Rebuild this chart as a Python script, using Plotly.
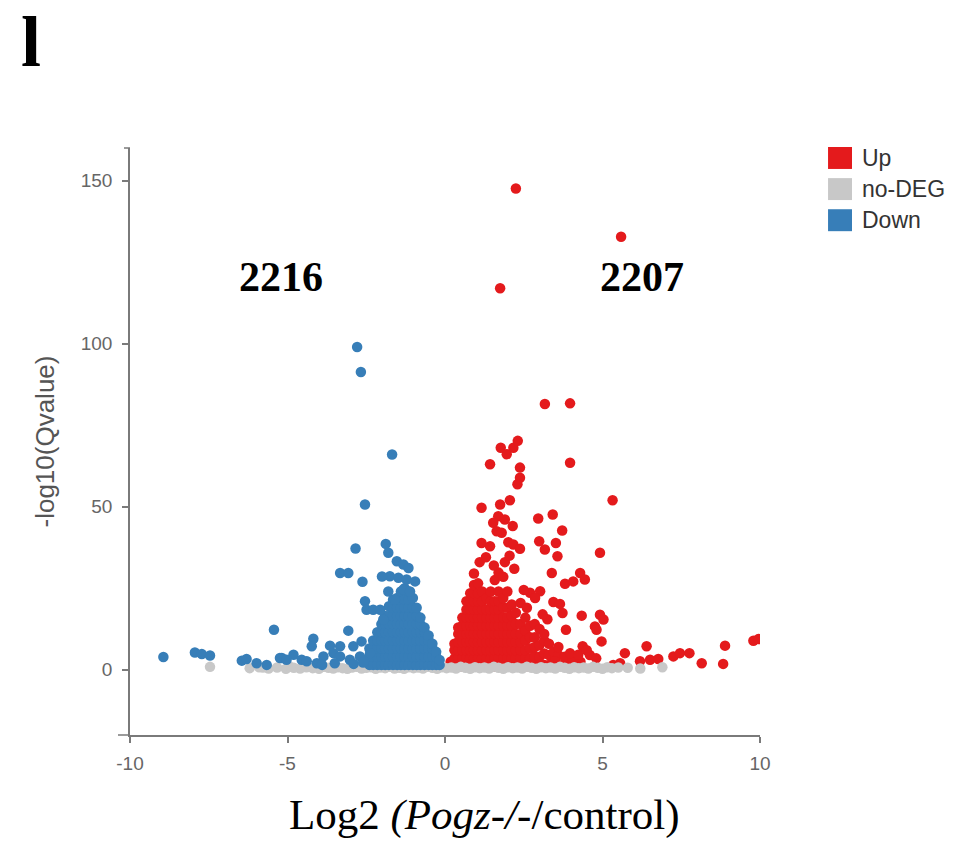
import plotly.graph_objects as go

# ---------------- data ----------------
# Up-regulated genes: isolated points
up_sparse_x = [2.25, 5.59, 1.75, 3.17, 3.97, 1.77, 1.96, 2.17, 2.31, 1.43, 3.97, 2.38, 2.38, 2.30,
               5.32, 1.16, 1.75, 2.06, 1.69, 1.90, 2.15, 1.53, 2.96, 3.42, 3.72, 1.64, 1.80,
               1.16, 1.43, 2.01, 2.17, 2.38, 2.99, 3.17, 3.52, 3.57, 4.92, 3.39, 4.29, 4.44,
               3.81, 4.07, 2.70, 3.02, 2.86, 3.44, 3.65, 3.73, 4.34, 4.92, 5.03, 4.76, 4.81,
               3.84, 4.97, 6.40, 8.89, 9.79, 9.95, 7.25, 7.46, 7.76, 8.15, 8.83, 5.71, 6.19,
               6.51, 6.77, 5.56, 5.34, 4.37, 3.97, 4.23, 3.49, 4.60, 4.80, 4.50, 1.10, 1.30,
               1.55, 1.90, 2.20, 2.05, 2.60, 3.25, 3.10, 2.50]
up_sparse_y = [147.6, 132.8, 117.0, 81.5, 81.7, 68.1, 66.1, 68.1, 70.2, 63.0, 63.5, 62.0, 58.9, 56.9,
               52.0, 49.7, 50.7, 52.0, 47.1, 46.1, 44.1, 45.1, 46.4, 47.6, 42.7, 42.5, 42.0,
               38.9, 37.9, 39.1, 38.4, 37.1, 39.4, 36.9, 38.9, 34.8, 35.9, 29.7, 29.7, 27.7,
               26.4, 27.1, 23.6, 24.1, 22.0, 20.8, 20.2, 17.4, 16.6, 16.9, 15.4, 13.3, 12.3,
               12.3, 8.7, 7.2, 7.4, 8.9, 9.4, 4.1, 5.1, 5.1, 2.0, 1.8, 5.1, 2.6,
               3.1, 3.3, 2.0, 1.5, 7.2, 5.1, 4.6, 2.6, 4.5, 3.5, 6.0, 33.0, 34.5,
               32.0, 33.0, 31.0, 35.0, 19.0, 15.5, 17.0, 24.5]

# Up-regulated genes: dense core, listed column by column (x, then its y values)
up_core = [
    (0.18, [1.0, 2.5]),
    (0.30, [1.0, 3.5, 6.0, 8.0]),
    (0.42, [1.0, 3.5, 6.0, 8.5, 11.0, 13.0]),
    (0.55, [1.0, 3.5, 6.0, 8.5, 11.0, 13.5, 16.0]),
    (0.68, [1.0, 3.5, 6.0, 8.5, 11.0, 13.5, 16.0, 18.5, 21.0]),
    (0.80, [1.0, 3.5, 6.0, 8.5, 11.0, 13.5, 16.0, 18.5, 21.0, 23.5]),
    (0.92, [1.0, 3.5, 6.0, 8.5, 11.0, 13.5, 16.0, 18.5, 21.0, 23.5, 26.0, 29.5]),
    (1.05, [1.0, 3.5, 6.0, 8.5, 11.0, 13.5, 16.0, 18.5, 21.0, 23.5, 26.5]),
    (1.18, [1.0, 3.5, 6.0, 8.5, 11.0, 13.5, 16.0, 18.5, 21.0, 24.0]),
    (1.32, [1.0, 3.5, 6.0, 8.5, 11.0, 13.5, 16.0, 18.5, 22.0]),
    (1.45, [1.0, 3.5, 6.0, 8.5, 11.0, 13.5, 16.0, 18.5, 21.0, 24.0]),
    (1.58, [1.0, 3.5, 6.0, 8.5, 11.0, 13.5, 16.0, 18.5, 21.0, 27.5]),
    (1.70, [1.0, 3.5, 6.0, 8.5, 11.0, 13.5, 16.0, 18.5, 21.0, 24.0, 29.8]),
    (1.85, [1.0, 3.5, 6.0, 8.5, 11.0, 13.5, 16.0, 19.0, 22.0, 28.5]),
    (1.98, [1.0, 3.5, 6.0, 8.5, 11.0, 13.5, 16.0, 19.0, 24.0]),
    (2.12, [1.0, 3.5, 6.0, 8.5, 11.0, 13.5, 16.5, 20.0]),
    (2.25, [1.0, 3.5, 6.0, 8.5, 11.0, 14.0, 17.5]),
    (2.40, [1.0, 3.5, 6.0, 8.5, 11.0, 14.0, 20.5]),
    (2.55, [1.0, 3.5, 6.0, 9.0, 12.0, 16.0]),
    (2.70, [1.0, 3.5, 6.5, 10.0, 13.5]),
    (2.85, [1.2, 4.0, 7.0, 10.0, 14.0]),
    (3.00, [1.2, 4.0, 7.5, 12.5]),
    (3.15, [1.5, 5.0, 9.0, 11.0]),
    (3.30, [1.5, 4.5, 8.0]),
    (3.45, [1.5, 5.5]),
    (3.60, [1.5, 4.5, 7.0]),
    (3.80, [2.0, 4.0]),
    (4.05, [2.0, 3.5]),
    (4.30, [2.5]),
]

# Not differentially expressed genes
nodeg_x = [-7.46, -6.20, -5.90, -5.78, -5.60, -5.33, -5.05, -4.92, -4.80, -4.60, -4.40, -4.20, -4.00,
           -3.85, -3.70, -3.55, -3.40, -3.25, -3.10, -2.95, -2.80, -2.65, -2.50, -2.35, -2.20,
           -2.05, -1.90, -1.75, -1.60, -1.45, -1.30, -1.15, -1.00, -0.85, -0.70, -0.55, -0.40,
           -0.25, -0.10, 0.05, 0.20, 0.35, 0.50, 0.65, 0.80, 0.95, 1.10, 1.25, 1.40, 1.55,
           1.70, 1.85, 2.00, 2.15, 2.30, 2.45, 2.60, 2.75, 2.90, 3.05, 3.20, 3.35, 3.50, 3.65,
           3.80, 3.95, 4.10, 4.25, 4.40, 4.55, 4.70, 4.85, 5.00, 5.15, 5.30, 5.50, 5.80, 6.20, 6.90]
nodeg_y = [0.9, 0.5, 0.8, 0.7, 0.4, 0.7, 0.3, 0.9, 0.6, 0.4, 0.8, 0.5, 0.3,
           0.9, 0.6, 0.4, 0.8, 0.5, 0.3, 0.7, 0.9, 0.4, 0.6, 0.8, 0.3,
           0.7, 0.5, 0.9, 0.4, 0.6, 0.3, 0.8, 0.5, 0.7, 0.4, 0.9, 0.6,
           0.3, 0.8, 0.5, 0.7, 0.4, 0.9, 0.6, 0.3, 0.8, 0.5, 0.7, 0.4, 0.9,
           0.6, 0.3, 0.8, 0.5, 0.7, 0.4, 0.9, 0.6, 0.3, 0.8, 0.5, 0.7, 0.4, 0.9,
           0.6, 0.3, 0.8, 0.5, 0.7, 0.4, 0.9, 0.6, 0.3, 0.8, 0.5, 0.7, 0.6, 0.4, 0.8]

# Down-regulated genes: isolated points
down_sparse_x = [-2.79, -2.67, -1.68, -2.54, -2.84, -1.88, -1.80, -1.53, -1.32, -1.16, -1.75, -1.48,
                 -1.22, -0.95, -3.33, -3.07, -2.62, -2.00, -1.80, -2.54, -2.49, -2.28, -2.06, -1.96,
                 -1.59, -1.32, -1.11, -5.43, -3.07, -4.18, -8.94, -7.94, -7.72, -7.46, -6.45, -6.30,
                 -5.98, -5.66, -5.18, -4.81, -4.23, -3.65, -3.33, -2.91, -2.65, -3.86, -3.54, -3.33,
                 -3.02, -2.70, -2.38, -4.55, -4.39, -4.07, -5.24, -5.03, -3.90, -3.50, -2.90, -2.60]
down_sparse_y = [99.0, 91.3, 66.0, 50.7, 37.2, 38.6, 35.9, 33.3, 32.3, 31.2, 28.7, 28.2,
                 27.7, 27.1, 29.7, 29.7, 27.0, 28.6, 24.0, 21.0, 18.4, 18.4, 18.4, 15.4,
                 21.5, 24.6, 24.0, 12.3, 12.0, 9.5, 3.9, 5.3, 4.8, 4.4, 2.8, 3.3,
                 2.0, 1.5, 3.6, 4.6, 7.2, 7.4, 7.2, 7.2, 8.7, 4.1, 5.1, 4.1,
                 3.1, 4.1, 5.1, 3.1, 2.6, 2.0, 3.6, 3.1, 1.5, 2.0, 1.8, 2.2]

# Down-regulated genes: dense core, column by column
down_core = [
    (-2.40, [1.5, 4.0, 6.5]),
    (-2.28, [1.5, 4.0, 6.5, 9.0]),
    (-2.15, [1.5, 4.0, 6.5, 9.0, 11.5]),
    (-2.02, [1.5, 4.0, 6.5, 9.0, 11.5, 14.0]),
    (-1.90, [1.5, 4.0, 6.5, 9.0, 11.5, 14.0, 16.5]),
    (-1.78, [1.5, 4.0, 6.5, 9.0, 11.5, 14.0, 16.5, 19.5]),
    (-1.65, [1.5, 4.0, 6.5, 9.0, 11.5, 14.0, 16.5, 19.0, 21.5]),
    (-1.52, [1.5, 4.0, 6.5, 9.0, 11.5, 14.0, 16.5, 19.0, 22.0]),
    (-1.40, [1.5, 4.0, 6.5, 9.0, 11.5, 14.0, 16.5, 19.0, 21.5, 24.0]),
    (-1.28, [1.5, 4.0, 6.5, 9.0, 11.5, 14.0, 16.5, 19.0, 21.5, 25.0]),
    (-1.15, [1.5, 4.0, 6.5, 9.0, 11.5, 14.0, 16.5, 19.0, 21.5, 24.0]),
    (-1.02, [1.5, 4.0, 6.5, 9.0, 11.5, 14.0, 16.5, 19.0, 22.0]),
    (-0.90, [1.5, 4.0, 6.5, 9.0, 11.5, 14.0, 16.5, 19.0]),
    (-0.78, [1.5, 4.0, 6.5, 9.0, 11.5, 14.0, 16.0]),
    (-0.65, [1.5, 4.0, 6.5, 9.0, 11.5, 13.0]),
    (-0.52, [1.5, 4.0, 6.5, 9.0, 10.5]),
    (-0.40, [1.5, 4.0, 6.5, 8.0]),
    (-0.28, [1.5, 4.0, 5.5]),
    (-0.17, [1.5, 3.0]),
]

x_ticks = [-10, -5, 0, 5, 10]
y_ticks = [0, 50, 100, 150]
legend_names = ["Up", "no-DEG", "Down"]
legend_colors = ["#E41A1C", "#C8C8C8", "#377EB8"]
count_labels = ["2216", "2207"]
count_x = [-5.2, 6.25]
count_y = [120.5, 120.5]

# ---------------- build series ----------------
def expand(core):
    xs, ys = [], []
    for cx, col in core:
        for cy in col:
            xs.append(cx)
            ys.append(cy)
    return xs, ys

ucx, ucy = expand(up_core)
dcx, dcy = expand(down_core)
up_x = ucx + up_sparse_x
up_y = ucy + up_sparse_y
down_x = dcx + down_sparse_x
down_y = dcy + down_sparse_y

series = [
    (up_x, up_y, legend_colors[0], legend_names[0]),
    (nodeg_x, nodeg_y, legend_colors[1], legend_names[1]),
    (down_x, down_y, legend_colors[2], legend_names[2]),
]

fig = go.Figure()
for xs, ys, col, name in series:
    fig.add_trace(go.Scatter(
        x=xs, y=ys, mode="markers", name=name, showlegend=False,
        marker=dict(color=col, size=10.5, line=dict(width=0)),
        hoverinfo="x+y+name",
    ))

axis_col = "#7a7a7a"
tick_font = dict(family="Arial, Liberation Sans, sans-serif", size=19, color="#666666")

fig.update_layout(
    width=953, height=841,
    margin=dict(l=130, r=193, t=148, b=106),
    plot_bgcolor="white", paper_bgcolor="white",
    showlegend=False,
    xaxis=dict(range=[-10, 10], tickvals=x_ticks, ticktext=[str(v) for v in x_ticks],
               showgrid=False, zeroline=False, showline=True, linecolor=axis_col, linewidth=1.5,
               ticks="outside", ticklen=6, tickwidth=1.5, tickcolor=axis_col,
               tickfont=tick_font, ticklabelstandoff=4),
    yaxis=dict(range=[-20, 160], tickvals=y_ticks, ticktext=[str(v) for v in y_ticks],
               showgrid=False, zeroline=False, showline=True, linecolor=axis_col, linewidth=1.5,
               ticks="outside", ticklen=6, tickwidth=1.5, tickcolor=axis_col,
               tickfont=tick_font, ticklabelstandoff=6),
)

# outer ticks at the ends of the y axis (d3-style domain path)
for yv in [0, 1]:
    fig.add_shape(type="line", xref="paper", yref="paper", xsizemode="pixel", xanchor=0,
                  x0=-12 if yv == 0 else -6, x1=0, y0=yv, y1=yv,
                  line=dict(color=axis_col, width=1.5))

# manual legend with square swatches
row_y = [0.983, 0.930, 0.877]
for name, col, ry in zip(legend_names, legend_colors, row_y):
    fig.add_shape(type="rect", xref="paper", yref="paper",
                  x0=1.108, x1=1.146, y0=ry - 0.0187, y1=ry + 0.0187,
                  fillcolor=col, line=dict(width=0))
    fig.add_annotation(xref="paper", yref="paper", x=1.159, y=ry, text=name,
                       showarrow=False, xanchor="left", yanchor="middle",
                       font=dict(family="Arial, Liberation Sans, sans-serif", size=23, color="#333333"))

# counts
for lbl, cx, cy in zip(count_labels, count_x, count_y):
    fig.add_annotation(x=cx, y=cy, text=f"<b>{lbl}</b>", showarrow=False,
                       font=dict(family="Times New Roman, Liberation Serif, serif", size=42, color="black"))

# y axis title
fig.add_annotation(xref="paper", yref="paper", x=-0.1365, y=0.5, text="-log10(Qvalue)",
                   textangle=-90, showarrow=False, xanchor="center", yanchor="middle",
                   font=dict(family="Arial, Liberation Sans, sans-serif", size=26, color="#555555"))

# x axis title
fig.add_annotation(xref="paper", yref="paper", x=0.562, y=-0.136,
                   text="Log2 <i>(Pogz-/-</i>/control)", showarrow=False,
                   xanchor="center", yanchor="middle",
                   font=dict(family="Times New Roman, Liberation Serif, serif", size=43, color="black"))

# panel letter
fig.add_annotation(xref="paper", yref="paper", x=-0.157, y=1.18, text="<b>l</b>",
                   showarrow=False, xanchor="center", yanchor="middle",
                   font=dict(family="Times New Roman, Liberation Serif, serif", size=72, color="black"))

fig.write_html("out.html", config={"displayModeBar": False},
               post_script="document.body.style.margin='0px';document.body.style.overflow='hidden';")
